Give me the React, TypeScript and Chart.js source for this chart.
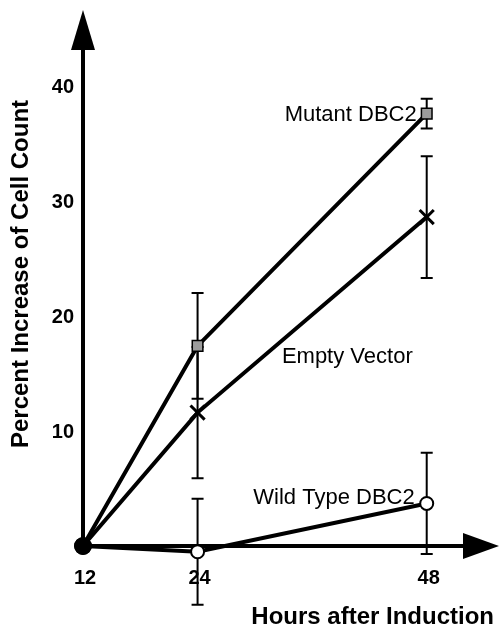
import React, { useEffect, useRef } from "react";
import { Chart, registerables } from "chart.js";

Chart.register(...registerables);

// ---- data ----
const hours = [12, 24, 48];
const xTickValues = [12, 24, 48];
const yTickValues = [10, 20, 30, 40];
const seriesNames = ["Mutant DBC2", "Empty Vector", "Wild Type DBC2"];
const mutantValues = [0, 17.4, 37.6];
const mutantErrors = [0, 4.6, 1.3];
const emptyValues = [0, 11.6, 28.6];
const emptyErrors = [0, 5.7, 5.3];
const wildValues = [0, -0.5, 3.7];
const wildErrors = [0, 4.6, 4.4];
const xTitle = "Hours after Induction";
const yTitle = "Percent Increase of Cell Count";

const FONT = "'Liberation Sans', Arial, Helvetica, sans-serif";

const seriesErrors = [mutantErrors, emptyErrors, wildErrors];

const toPoints = (vals: number[]) => hours.map((h, i) => ({ x: h, y: vals[i] }));

const decorPlugin = {
  id: "decor",
  beforeDatasetsDraw(chart: any) {
    const { ctx, chartArea } = chart;
    const xs = chart.scales.x;
    const ys = chart.scales.y;
    const x0 = xs.getPixelForValue(hours[0]);
    const y0 = ys.getPixelForValue(0);
    ctx.save();
    ctx.strokeStyle = "#000";
    ctx.fillStyle = "#000";
    ctx.lineWidth = 4;
    ctx.lineCap = "butt";
    // y axis
    ctx.beginPath();
    ctx.moveTo(x0, y0);
    ctx.lineTo(x0, chartArea.top + 30);
    ctx.stroke();
    ctx.beginPath();
    ctx.moveTo(x0, chartArea.top - 7);
    ctx.lineTo(x0 - 12, chartArea.top + 33);
    ctx.lineTo(x0 + 12, chartArea.top + 33);
    ctx.closePath();
    ctx.fill();
    // x axis
    ctx.beginPath();
    ctx.moveTo(x0, y0);
    ctx.lineTo(chartArea.right - 20, y0);
    ctx.stroke();
    ctx.beginPath();
    ctx.moveTo(chartArea.right + 15, y0);
    ctx.lineTo(chartArea.right - 21, y0 - 13);
    ctx.lineTo(chartArea.right - 21, y0 + 13);
    ctx.closePath();
    ctx.fill();

    // tick labels
    ctx.font = `bold 20px ${FONT}`;
    ctx.textAlign = "right";
    ctx.textBaseline = "middle";
    yTickValues.forEach((v) => {
      ctx.fillText(String(v), x0 - 9, ys.getPixelForValue(v) + 1);
    });
    ctx.textAlign = "center";
    xTickValues.forEach((v) => {
      ctx.fillText(String(v), xs.getPixelForValue(v) + 2, y0 + 32);
    });

    // axis titles
    ctx.font = `bold 24px ${FONT}`;
    ctx.textAlign = "right";
    ctx.fillText(xTitle, chartArea.right + 10, y0 + 71);
    ctx.save();
    ctx.translate(21, 274);
    ctx.rotate(-Math.PI / 2);
    ctx.textAlign = "center";
    ctx.fillText(yTitle, 0, 0);
    ctx.restore();

    // error bars
    ctx.lineWidth = 2;
    chart.data.datasets.forEach((ds: any, di: number) => {
      const errs = seriesErrors[di];
      ds.data.forEach((p: any, i: number) => {
        const e = errs[i];
        if (!e) return;
        const px = xs.getPixelForValue(p.x);
        const top = ys.getPixelForValue(p.y + e);
        const bot = ys.getPixelForValue(p.y - e);
        ctx.beginPath();
        ctx.moveTo(px, top);
        ctx.lineTo(px, bot);
        ctx.moveTo(px - 6, top);
        ctx.lineTo(px + 6, top);
        ctx.moveTo(px - 6, bot);
        ctx.lineTo(px + 6, bot);
        ctx.stroke();
      });
    });
    ctx.restore();
  },
  afterDatasetsDraw(chart: any) {
    const { ctx } = chart;
    const xs = chart.scales.x;
    const ys = chart.scales.y;
    const last = hours.length - 1;
    const lx = xs.getPixelForValue(hours[last]);
    ctx.save();
    ctx.fillStyle = "#000";
    ctx.font = `22px ${FONT}`;
    ctx.textAlign = "right";
    ctx.textBaseline = "middle";
    ctx.fillText(seriesNames[0], lx - 10, ys.getPixelForValue(mutantValues[last]) + 1);
    ctx.fillText(seriesNames[1], lx - 14, ys.getPixelForValue(emptyValues[last]) + 140);
    ctx.fillText(seriesNames[2], lx - 12, ys.getPixelForValue(wildValues[last]) - 6);
    ctx.restore();
  },
};

export default function App() {
  const ref = useRef<HTMLCanvasElement | null>(null);
  useEffect(() => {
    if (!ref.current) return;
    const chart = new Chart(ref.current, {
      type: "line",
      data: {
        datasets: [
          {
            label: seriesNames[0],
            data: toPoints(mutantValues),
            borderColor: "#000",
            borderWidth: 4,
            pointStyle: ["circle", "rect", "rect"],
            pointRadius: [8, 7.5, 7.5],
            pointBackgroundColor: ["#000", "#9c9c9c", "#9c9c9c"],
            pointBorderColor: "#000",
            pointBorderWidth: 1.5,
            clip: false,
          } as any,
          {
            label: seriesNames[1],
            data: toPoints(emptyValues),
            borderColor: "#000",
            borderWidth: 4,
            pointStyle: ["circle", "crossRot", "crossRot"],
            pointRadius: [8, 10, 10],
            pointBackgroundColor: "#000",
            pointBorderColor: "#000",
            pointBorderWidth: [1, 3, 3],
            clip: false,
          } as any,
          {
            label: seriesNames[2],
            data: toPoints(wildValues),
            borderColor: "#000",
            borderWidth: 4,
            pointStyle: "circle",
            pointRadius: [8, 6.5, 6.5],
            pointBackgroundColor: ["#000", "#fff", "#fff"],
            pointBorderColor: "#000",
            pointBorderWidth: 2,
            clip: false,
          } as any,
        ],
      },
      options: {
        animation: false,
        responsive: false,
        devicePixelRatio: 1,
        layout: { padding: { left: 83, right: 16, top: 17, bottom: 13 } },
        scales: {
          x: { type: "linear", min: 12, max: 54, display: false },
          y: { type: "linear", min: -6, max: 46, display: false },
        },
        plugins: {
          legend: { display: false },
          tooltip: { enabled: false },
        },
        elements: { line: { tension: 0 } },
      },
      plugins: [decorPlugin],
    });
    return () => chart.destroy();
  }, []);
  return (
    <div style={{ position: "absolute", left: 0, top: 0, width: 500, height: 628, background: "#fff" }}>
      <canvas ref={ref} width={500} height={628} />
    </div>
  );
}
